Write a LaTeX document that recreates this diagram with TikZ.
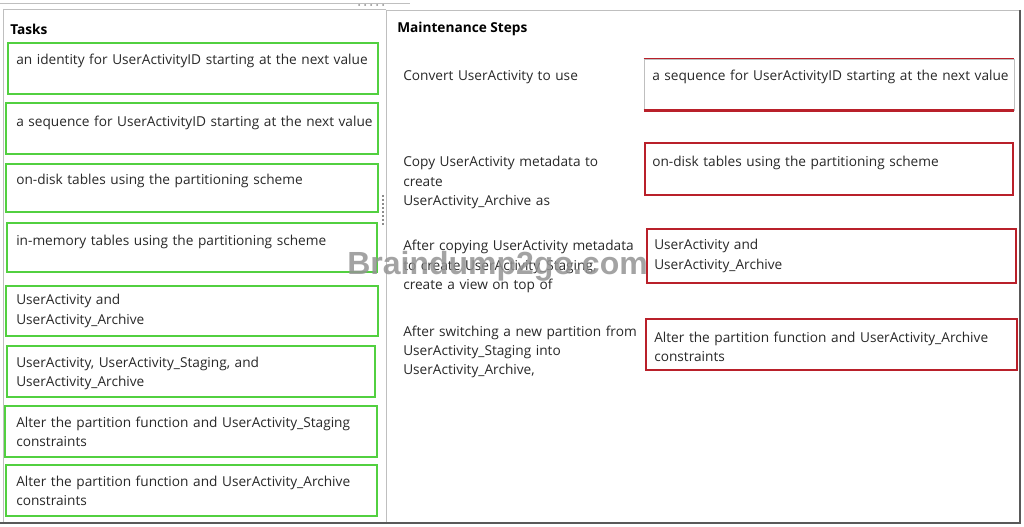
\documentclass[tikz,border=0pt]{standalone}
\usepackage{fontspec}
\setmainfont{Open Sans}
\newfontfamily\wmfont{Liberation Sans}
\usetikzlibrary{fit}
\definecolor{boxgreen}{RGB}{82,208,64}
\definecolor{boxred}{RGB}{185,32,42}
\definecolor{txtgray}{RGB}{40,40,40}
\begin{document}
\begin{tikzpicture}[x=0.75pt,y=-0.75pt,
  gbox/.style={draw=boxgreen, line width=1.7pt, inner sep=0pt},
  rbox/.style={draw=boxred, line width=1.3pt, inner sep=0pt},
  rline/.style={draw=boxred, line width=1.3pt},
  rlinethick/.style={draw=boxred, line width=1.8pt},
  txt/.style={anchor=base west, inner sep=0pt, text width=290pt, align=left, text=txtgray,
    font=\fontsize{10.25}{14.3}\selectfont},
  head/.style={anchor=base west, inner sep=0pt, text=black,
    font=\fontsize{10.25}{14.3}\selectfont\bfseries},
  frame/.style={draw=black!25, line width=0.6pt},
  shadow/.style={draw=black!65, line width=1.8pt},
  grip/.style={fill=black!45},
  wm/.style={inner sep=0pt, text=black!42, opacity=0.85, font=\wmfont\bfseries\fontsize{24}{24}\selectfont}
]
\useasboundingbox (0,0) rectangle (1024,527);
\fill[white] (0,0) rectangle (1024,527);

% frame
\draw[frame] (0,3) -- (410,3);
\draw[frame] (3,9) -- (386,9);
\draw[frame] (386,10) -- (1020,10);
\draw[frame] (3,9) -- (3,523);
\draw[frame] (386,10) -- (386,523);
\draw[shadow] (1020,10) -- (1020,523);
\draw[shadow] (0,523) -- (1021,523);
\foreach \i in {0,...,4} \fill[grip] (359+6*\i,5) circle (1);
\draw[black!45, line width=0.8pt, dash pattern=on 1.5pt off 1.5pt] (383,195) -- (383,226);

% headings
\node[head] (tasks) at (10,35) {Tasks};
\node[head] (steps) at (397,33) {Maintenance Steps};

% task boxes
\node[gbox, fit={(8,43)(378,94)}] (g1) {};
\node[gbox, fit={(6,103)(378,154)}] (g2) {};
\node[gbox, fit={(6,164)(378,212)}] (g3) {};
\node[gbox, fit={(7,223)(377,272)}] (g4) {};
\node[gbox, fit={(6,286)(378,336)}] (g5) {};
\node[gbox, fit={(7,346)(375,397)}] (g6) {};
\node[gbox, fit={(5,406)(377,457)}] (g7) {};
\node[gbox, fit={(6,465)(377,516)}] (g8) {};

\node[txt] (t1) at (16,65) {an identity for UserActivityID starting at the next value};
\node[txt] (t2) at (16,127) {a sequence for UserActivityID starting at the next value};
\node[txt] (t3) at (16,185) {on-disk tables using the partitioning scheme};
\node[txt] (t4) at (16,246) {in-memory tables using the partitioning scheme};
\node[txt] (t5) at (16,305) {UserActivity and\\UserActivity\_Archive};
\node[txt] (t6) at (16,367) {UserActivity, UserActivity\_Staging, and\\UserActivity\_Archive};
\node[txt] (t7) at (16,427) {Alter the partition function and UserActivity\_Staging\\constraints};
\node[txt] (t8) at (16,486) {Alter the partition function and UserActivity\_Archive\\constraints};

% step labels
\node[txt] (s1) at (403,81) {Convert UserActivity to use};
\node[txt] (s2) at (403,167) {Copy UserActivity metadata to\\create\\UserActivity\_Archive as};
\node[txt] (s3) at (403,251) {After copying UserActivity metadata\\to create UserActivity\_Staging,\\create a view on top of};
\node[txt] (s4) at (403,336) {After switching a new partition from\\UserActivity\_Staging into\\UserActivity\_Archive,};

% answer boxes
\node[draw=black!25, line width=0.6pt, inner sep=0pt, fit={(644,59)(1014,110)}] (r1) {};
\draw[rline] (r1.north west) -- (r1.north east);
\draw[rlinethick] (r1.south west) -- (r1.south east);
\node[rbox, fit={(645,143)(1013,195)}] (r2) {};
\node[rbox, fit={(647,229)(1016,283)}] (r3) {};
\node[rbox, fit={(646,319)(1017,370)}] (r4) {};

\node[txt] (a1) at (652,81) {a sequence for UserActivityID starting at the next value};
\node[txt] (a2) at (652,167) {on-disk tables using the partitioning scheme};
\node[txt] (a3) at (654,250) {UserActivity and\\UserActivity\_Archive};
\node[txt] (a4) at (654,342) {Alter the partition function and UserActivity\_Archive\\constraints};

% watermark
\node[wm, anchor=base west] (wmark) at (347,275) {Braindump2go.com};
\end{tikzpicture}
\end{document}
